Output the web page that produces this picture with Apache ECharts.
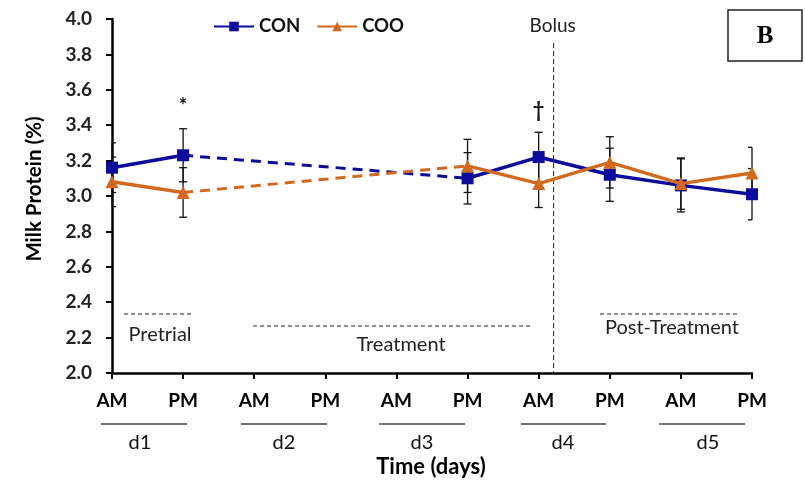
<!DOCTYPE html>
<html><head><meta charset="utf-8">
<script src="https://cdn.jsdelivr.net/npm/echarts@6.0.0/dist/echarts.min.js"></script>
<style>html,body{margin:0;background:#fff}#c{width:805px;height:490px}</style>
</head><body><div id="c"></div>
<script>
// ---- data ----
const categories = ['AM','PM','AM','PM','AM','PM','AM','PM','AM','PM'];
const days = ['d1','d2','d3','d4','d5'];
const seriesNames = ['CON','COO'];
const conValues = [3.16, 3.23, null, null, null, 3.10, 3.22, 3.12, 3.06, 3.01];
const cooValues = [3.08, 3.02, null, null, null, 3.17, 3.07, 3.19, 3.07, 3.13];
const conErr    = [0.14, 0.15, null, null, null, 0.145, 0.14, 0.15, 0.15, 0.145];
const cooErr    = [0.14, 0.14, null, null, null, 0.15, 0.135, 0.145, 0.145, 0.145];
const yMin = 2.0, yMax = 4.0, yStep = 0.2;
const notes = [{idx: 1, text: '*'}, {idx: 6, text: '\u2020'}];
const phases = ['Pretrial', 'Treatment', 'Post-Treatment'];
const bolusLabel = 'Bolus';
const xTitle = 'Time (days)';
const yTitle = 'Milk Protein (%)';
const panelLabel = 'B';

// ---- styles ----
const FONT = 'Lato';
const CON_C = '#0c0c9e';
const COO_C = '#d2691e';

function bridge(vals) {
  const out = vals.map(() => null);
  for (let i = 0; i < vals.length; i++) {
    if (vals[i] == null) continue;
    if (i + 1 < vals.length && vals[i + 1] == null) {
      let j = i + 1;
      while (j < vals.length && vals[j] == null) j++;
      if (j < vals.length) { out[i] = vals[i]; out[j] = vals[j]; }
    }
  }
  return out;
}
function errData(vals, errs) {
  const d = [];
  vals.forEach((v, i) => { if (v != null && errs[i] != null) d.push([i, v - errs[i], v + errs[i]]); });
  return d;
}
function errSeries(vals, errs) {
  return {
    type: 'custom', z: 1, silent: true,
    data: errData(vals, errs),
    encode: {x: 0, y: [1, 2]},
    renderItem: function (params, api) {
      const cs = params.coordSys;
      const x = api.value(0);
      const top = api.coord([x, api.value(2)]);
      const bot = api.coord([x, api.value(1)]);
      const w = 4;
      const l = Math.max(cs.x, top[0] - w), r = Math.min(cs.x + cs.width, top[0] + w);
      const st = {stroke: '#111', lineWidth: 1.3};
      return {type: 'group', children: [
        {type: 'line', shape: {x1: top[0], y1: top[1], x2: bot[0], y2: bot[1]}, style: st},
        {type: 'line', shape: {x1: l, y1: top[1], x2: r, y2: top[1]}, style: st},
        {type: 'line', shape: {x1: l, y1: bot[1], x2: r, y2: bot[1]}, style: st}
      ]};
    }
  };
}

const chart = echarts.init(document.getElementById('c'), null, {renderer: 'canvas'});
const option = {
  animation: false,
  backgroundColor: '#fff',
  grid: {left: 112, right: 53, top: 19, bottom: 117, containLabel: false},
  legend: {
    data: seriesNames, left: 208, top: 12, itemWidth: 40, itemHeight: 12, itemGap: 16,
    textStyle: {fontFamily: FONT, fontWeight: 'bold', fontSize: 18.5, color: '#111'}
  },
  xAxis: {
    type: 'category', data: categories, boundaryGap: false,
    axisLine: {lineStyle: {color: '#000', width: 2.5}},
    axisTick: {show: true, length: 6, lineStyle: {color: '#000', width: 2}},
    axisLabel: {fontFamily: FONT, fontWeight: 'bold', fontSize: 19, color: '#000', margin: 18, interval: 0},
    splitLine: {show: false}
  },
  yAxis: {
    type: 'value', min: yMin, max: yMax, interval: yStep,
    axisLine: {show: true, lineStyle: {color: '#000', width: 2.5}},
    axisTick: {show: true, length: 6, lineStyle: {color: '#000', width: 2}},
    axisLabel: {fontFamily: FONT, fontWeight: 'bold', fontSize: 19, color: '#222', margin: 20,
      formatter: v => v.toFixed(1)},
    splitLine: {show: false}
  },
  series: [
    errSeries(conValues, conErr),
    errSeries(cooValues, cooErr),
    {name: 'CON-gap', type: 'line', data: bridge(conValues), connectNulls: true, symbol: 'none', z: 2,
      lineStyle: {color: CON_C, width: 3, type: [10, 7]}},
    {name: 'COO-gap', type: 'line', data: bridge(cooValues), connectNulls: true, symbol: 'none', z: 2,
      lineStyle: {color: COO_C, width: 3, type: [10, 7]}},
    {name: 'CON', type: 'line', data: conValues, symbol: 'rect', symbolSize: 12, z: 3,
      lineStyle: {color: CON_C, width: 3.5}, itemStyle: {color: CON_C}},
    {name: 'COO', type: 'line', data: cooValues, symbol: 'triangle', symbolSize: 13, z: 4,
      lineStyle: {color: COO_C, width: 3.5}, itemStyle: {color: COO_C}}
  ]
};
chart.setOption(option);

// ---- annotations ----
const P = (i, v) => chart.convertToPixel({xAxisIndex: 0, yAxisIndex: 0}, [i, v]);
const g = [];
const vals = [conValues, cooValues], errs = [conErr, cooErr];
notes.forEach(n => {
  const top = Math.min(...[0, 1].filter(s => vals[s][n.idx] != null).map(s => P(n.idx, vals[s][n.idx] + errs[s][n.idx])[1]));
  const x = P(n.idx, yMin)[0];
  g.push({type: 'text', x: x, y: top - 12, style: {text: n.text, align: 'center', verticalAlign: 'bottom',
    font: 'bold 20px ' + FONT, fill: '#111'}});
});
// bolus line between d4 AM and d4 PM
const xa = P(6, yMin)[0], xb = P(7, yMin)[0];
const bx = xa + (xb - xa) * 0.21;
const yBottom = P(0, yMin)[1];
g.push({type: 'line', shape: {x1: bx, y1: 43, x2: bx, y2: yBottom}, style: {stroke: '#222', lineWidth: 1, lineDash: [5, 3]}});
g.push({type: 'text', x: bx - 1, y: 26, style: {text: bolusLabel, align: 'center', verticalAlign: 'middle', font: '19px ' + FONT, fill: '#222'}});
// phase markers
const phaseLines = [[124, 194, 314], [253, 530, 326], [600, 740, 314]];
const phaseText = [[160, 335], [401, 345], [672, 328]];
phases.forEach((p, k) => {
  const L = phaseLines[k];
  g.push({type: 'line', shape: {x1: L[0], y1: L[2], x2: L[1], y2: L[2]}, style: {stroke: '#222', lineWidth: 1, lineDash: [4, 3]}});
  g.push({type: 'text', x: phaseText[k][0], y: phaseText[k][1], style: {text: p, align: 'center', verticalAlign: 'middle', font: '20px ' + FONT, fill: '#222'}});
});
// day groups
const dayLines = [[101, 187], [241, 327], [379, 465], [521, 606], [659, 745]];
const dayX = [140, 284, 422, 563, 708];
days.forEach((d, k) => {
  g.push({type: 'line', shape: {x1: dayLines[k][0], y1: 424, x2: dayLines[k][1], y2: 424}, style: {stroke: '#444', lineWidth: 1.5}});
  g.push({type: 'text', x: dayX[k], y: 443, style: {text: d, align: 'center', verticalAlign: 'middle', font: '20px ' + FONT, fill: '#111'}});
});
g.push({type: 'text', x: 431, y: 467, style: {text: xTitle, align: 'center', verticalAlign: 'middle', font: 'bold 22px ' + FONT, fill: '#000'}});
g.push({type: 'text', x: 34, y: 189, rotation: Math.PI / 2, style: {text: yTitle, align: 'center', verticalAlign: 'middle', font: 'bold 20.5px ' + FONT, fill: '#000'}});
// panel label
g.push({type: 'rect', shape: {x: 728, y: 10, width: 74, height: 51}, style: {fill: 'none', stroke: '#222', lineWidth: 1.5}});
g.push({type: 'text', x: 765, y: 37, style: {text: panelLabel, align: 'center', verticalAlign: 'middle', font: 'bold 25px "Liberation Serif"', fill: '#000'}});
chart.setOption({graphic: g});
</script>
</body></html>
